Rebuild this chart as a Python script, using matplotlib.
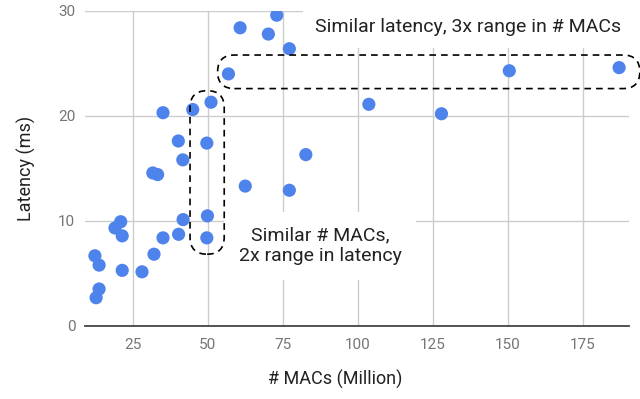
import matplotlib
matplotlib.use("Agg")
import matplotlib.pyplot as plt
from matplotlib.patches import FancyBboxPatch
from matplotlib.transforms import IdentityTransform

macs = [60.8, 70.2, 73.0, 77.2, 56.9, 51.1, 45.0, 35.1, 40.2, 49.7, 41.7, 31.7, 33.3, 82.7, 62.5, 77.2,
        49.9, 41.8, 21.0, 19.1, 21.5, 49.7, 35.1, 40.3, 32.1, 12.4, 13.8, 21.5, 28.1, 13.8, 12.8,
        150.5, 187.1, 103.7, 127.9]
latency = [28.4, 27.8, 29.6, 26.4, 24.0, 21.3, 20.6, 20.3, 17.6, 17.4, 15.8, 14.55, 14.4, 16.3, 13.3, 12.9,
           10.46, 10.1, 9.9, 9.3, 8.55, 8.36, 8.36, 8.7, 6.8, 6.65, 5.76, 5.26, 5.12, 3.48, 2.65,
           24.3, 24.6, 21.1, 20.2]
x_ticks = [25, 50, 75, 100, 125, 150, 175]
y_ticks = [0, 10, 20, 30]
x_title = "# MACs (Million)"
y_title = "Latency (ms)"
note_top = "Similar latency, 3x range in # MACs"
note_bottom = "Similar # MACs,\n2x range in latency"
# highlighted groups (data coords: x0, x1, y0, y1)
box_vertical = (44.1, 55.5, 6.8, 22.4)
box_horizontal = (53.3, 194.0, 22.6, 25.8)

plt.rcParams['font.family'] = ['Roboto', 'DejaVu Sans']

W, H = 640, 399
fig = plt.figure(figsize=(W / 100, H / 100), dpi=100)
ax = fig.add_axes([85 / W, (H - 325.5) / H, (629 - 85) / W, (325.5 - 11) / H])
ax.set_xlim(9.1, 190.4)
ax.set_ylim(0, 30)

ax.set_xticks(x_ticks)
ax.set_yticks(y_ticks)
ax.grid(True, color="#cccccc", linewidth=1.0, zorder=0)
ax.set_axisbelow(True)
for s in ["left", "right", "top"]:
    ax.spines[s].set_visible(False)
ax.spines["bottom"].set_color("#444444")
ax.spines["bottom"].set_linewidth(1.3)
ax.spines["bottom"].set_zorder(1)
ax.tick_params(axis="x", length=0, labelsize=11, labelcolor="#757575", pad=9)
ax.tick_params(axis="y", length=0, labelsize=11, labelcolor="#757575", pad=7)

ax.scatter(macs, latency, s=90, color="#4f83ec", edgecolors="none", zorder=4)

ax.set_ylabel(y_title, fontsize=13, color="#222222", labelpad=16)
fig.text(335 / W, 1 - 379 / H, x_title, ha="center", va="center", fontsize=13, color="#222222")

fig.text(468 / W, 1 - 27 / H, note_top, ha="center", va="center",
         fontsize=14, color="#222222", zorder=3,
         bbox=dict(boxstyle="square,pad=0.6", facecolor="white", edgecolor="none"))
ax.text(87.5, 7.6, note_bottom, ha="center", va="center", fontsize=14, color="#222222",
        linespacing=1.2, zorder=3,
        bbox=dict(boxstyle="square,pad=0.75", facecolor="white", edgecolor="none"))

for (x0, x1, y0, y1) in (box_vertical, box_horizontal):
    (px0, py0), (px1, py1) = ax.transData.transform([(x0, y0), (x1, y1)])
    w, h = px1 - px0, py1 - py0
    r = min(w, h) / 2
    patch = FancyBboxPatch((px0, py0), w, h, boxstyle=f"round,pad=0,rounding_size={r}",
                           transform=IdentityTransform(), fill=False, edgecolor="black",
                           linewidth=1.2, linestyle=(0, (4, 3)), zorder=5, clip_on=False)
    fig.add_artist(patch)

fig.savefig("out.png", dpi=100)
